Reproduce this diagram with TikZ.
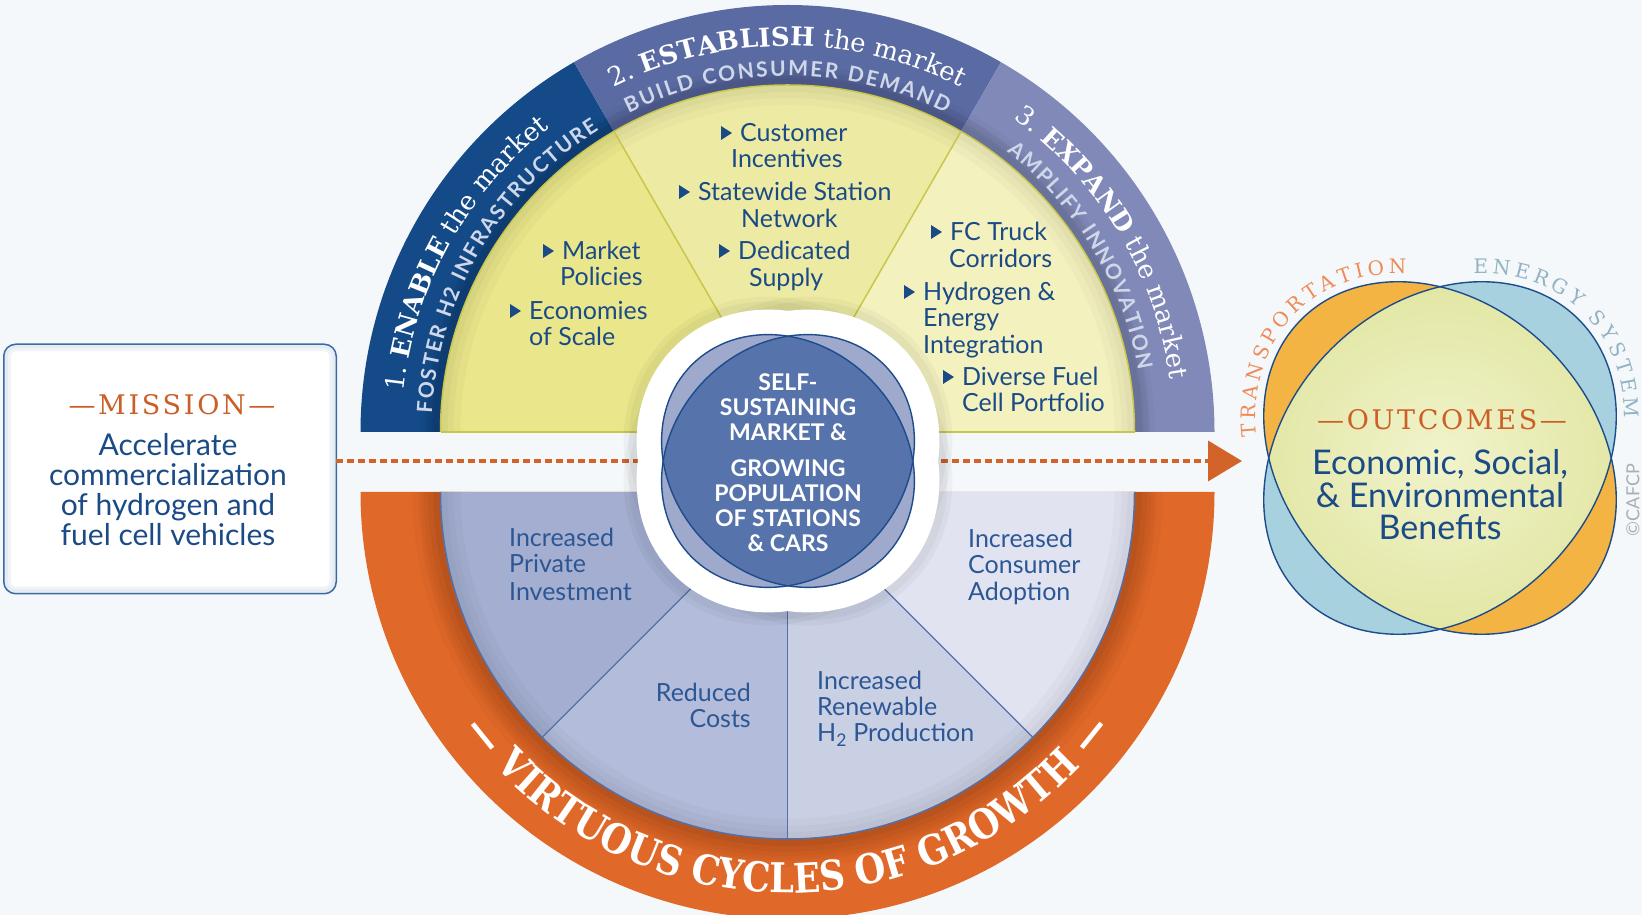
\documentclass[tikz,border=0pt]{standalone}
\usepackage{fontspec}
\setmainfont{Lato}
\newfontfamily\serifrm{DejaVu Serif}
\newfontfamily\serifst[FakeStretch=0.86]{DejaVu Serif}
\newfontfamily\serifls[LetterSpace=10]{DejaVu Serif}
\usetikzlibrary{decorations.text,arrows.meta,calc}

\definecolor{bg}{HTML}{F4F8FB}
\definecolor{ringA}{HTML}{134A87}
\definecolor{ringB}{HTML}{5A6BA3}
\definecolor{ringC}{HTML}{8089B8}
\definecolor{yelA}{HTML}{E9E68B}
\definecolor{yelB}{HTML}{EDEBA3}
\definecolor{yelC}{HTML}{F3F1BE}
\definecolor{yline}{HTML}{C9C64C}
\definecolor{orng}{HTML}{E06828}
\definecolor{orngdark}{HTML}{A84A18}
\definecolor{bsA}{HTML}{A3AED0}
\definecolor{bsB}{HTML}{B3BCDA}
\definecolor{bsC}{HTML}{CAD0E4}
\definecolor{bsD}{HTML}{E1E4F0}
\definecolor{secline}{HTML}{5470A8}
\definecolor{cdark}{HTML}{5673AB}
\definecolor{clight}{HTML}{9FA9CC}
\definecolor{outl}{HTML}{1D4C8C}
\definecolor{vorng}{HTML}{F3B443}
\definecolor{vblue}{HTML}{A8D1E0}
\definecolor{vyelin}{HTML}{F1F3CB}
\definecolor{vyelout}{HTML}{E1E6A2}
\definecolor{txtblue}{HTML}{1B4B86}
\definecolor{bottxt}{HTML}{2C5794}
\definecolor{ttlorange}{HTML}{CC5F27}
\definecolor{transp}{HTML}{EE8C58}
\definecolor{energy}{HTML}{93B3C3}
\definecolor{copyc}{HTML}{A8AEB5}
\definecolor{ringtxt}{HTML}{D0D7E8}
\definecolor{boxline}{HTML}{3C6AA2}
\definecolor{boxglow}{HTML}{E6ECF3}
\definecolor{dashc}{HTML}{D2642A}

\newcommand\ringbig{\fontsize{26}{26}\serifrm\mdseries}
\newcommand\ringbigb{\fontsize{26}{26}\serifrm\bfseries}
\newcommand\ringsmall{\fontsize{21}{21}\selectfont\rmfamily\bfseries}
\newcommand\cyclefont{\fontsize{41}{41}\serifst\bfseries}
\newcommand\outfont{\fontsize{20}{20}\serifrm\mdseries}

\tikzset{
  sectxt/.style={text=txtblue,font=\fontsize{25}{25}\selectfont,inner sep=0pt},
  bottext/.style={text=bottxt,font=\fontsize{25}{25}\selectfont,inner sep=0pt},
  ctrtxt/.style={text=white,font=\fontsize{23}{25}\selectfont\bfseries,align=center,inner sep=0pt},
  outline/.style={draw=outl,line width=1.4pt},
}
% bullet line: name, x of text, y (image, line centre), text
\newcommand\bul[4]{%
  \node[sectxt,anchor=base west] (#1) at (#2,906-#3) {#4};
  \fill[txtblue] ($(#1.base west)+(-19,2)$) -- ++(0,14) -- ++(11,-7) -- cycle;}
\newcommand\lin[4]{\node[sectxt,anchor=base west] (#1) at (#2,906-#3) {#4};}
\newcommand\blin[4]{\node[bottext,anchor=base west] (#1) at (#2,906-#3) {#4};}
\newcommand\blinr[4]{\node[bottext,anchor=base east] (#1) at (#2,906-#3) {#4};}

\begin{document}
\begin{tikzpicture}[x=1pt,y=1pt]
\useasboundingbox (0,0) rectangle (1642,915);
\fill[bg] (0,0) rectangle (1642,915);
\clip (0,0) rectangle (1642,915);

\coordinate (U) at (787.5,483);
\coordinate (L) at (787.5,423);
\coordinate (C) at (788,454);
\coordinate (O) at (1440,457);
\coordinate (tip) at (1242,454);

% ---------- lower half ----------
\fill[orng] (L) -- ($(L)+(180:427)$) arc[start angle=180,end angle=360,radius=427] -- cycle;
\foreach \w in {56,44,34,24,14}{
  \draw[orngdark,opacity=0.09,line width=\w] ($(L)+(180:347)$) arc[start angle=180,end angle=360,radius=347];}
\fill[bsA] (L) -- ($(L)+(180:347)$) arc[start angle=180,end angle=225,radius=347] -- cycle;
\fill[bsB] (L) -- ($(L)+(225:347)$) arc[start angle=225,end angle=270,radius=347] -- cycle;
\fill[bsC] (L) -- ($(L)+(270:347)$) arc[start angle=270,end angle=315,radius=347] -- cycle;
\fill[bsD] (L) -- ($(L)+(315:347)$) arc[start angle=315,end angle=360,radius=347] -- cycle;
\foreach \w in {40,26,14}{
  \draw[black,opacity=0.025,line width=\w] ($(L)+(180:347)$) arc[start angle=180,end angle=360,radius=347];}
\draw[secline,line width=1.2] (L) -- ($(L)+(225:347)$);
\draw[secline,line width=1.2] (L) -- ($(L)+(270:347)$);
\draw[secline,line width=1.2] (L) -- ($(L)+(315:347)$);
\draw[secline,line width=1.5] ($(L)+(180:347)$) arc[start angle=180,end angle=360,radius=347];

% ---------- upper half ----------
\fill[ringA] (U) -- ($(U)+(180:427)$) arc[start angle=180,end angle=120,radius=427] -- cycle;
\fill[ringB] (U) -- ($(U)+(120:427)$) arc[start angle=120,end angle=60,radius=427] -- cycle;
\fill[ringC] (U) -- ($(U)+(60:427)$) arc[start angle=60,end angle=0,radius=427] -- cycle;
\foreach \w in {30,18}{
  \draw[black,opacity=0.05,line width=\w] ($(U)+(180:347)$) arc[start angle=180,end angle=0,radius=347];}
\fill[yelA] (U) -- ($(U)+(180:347)$) arc[start angle=180,end angle=120,radius=347] -- cycle;
\fill[yelB] (U) -- ($(U)+(120:347)$) arc[start angle=120,end angle=60,radius=347] -- cycle;
\fill[yelC] (U) -- ($(U)+(60:347)$) arc[start angle=60,end angle=0,radius=347] -- cycle;
\foreach \w in {40,26,14}{
  \draw[black,opacity=0.025,line width=\w] ($(U)+(180:347)$) arc[start angle=180,end angle=0,radius=347];}
\draw[yline,line width=1.5] (U) -- ($(U)+(120:347)$);
\draw[yline,line width=1.5] (U) -- ($(U)+(60:347)$);
\draw[yline,line width=1.5] ($(U)+(180:347)$) arc[start angle=180,end angle=0,radius=347];
\draw[yline,line width=1.5] ($(U)+(180:347)$) -- ($(U)+(0:347)$);

% ring texts
\path[decorate,decoration={text along path,text align=center,text color=white,
  text={|\ringbig|1. |\ringbigb|ENABLE|\ringbig| the market}}]
  ($(U)+(191:386)$) arc[start angle=191,end angle=111,radius=386];
\path[decorate,decoration={text along path,text align=center,text color=white,
  text={|\ringbig|2. |\ringbigb|ESTABLISH|\ringbig| the market}}]
  ($(U)+(130:386)$) arc[start angle=130,end angle=50,radius=386];
\path[decorate,decoration={text along path,text align=center,text color=white,
  text={|\ringbig|3. |\ringbigb|EXPAND|\ringbig| the market}}]
  ($(U)+(71:386)$) arc[start angle=71,end angle=-9,radius=386];
\path[decorate,decoration={text along path,text align={fit to path},text color=ringtxt,
  text={|\ringsmall|FOSTER H2 INFRASTRUCTURE}}]
  ($(U)+(177:356)$) arc[start angle=177,end angle=122,radius=356];
\path[decorate,decoration={text along path,text align={fit to path},text color=ringtxt,
  text={|\ringsmall|BUILD CONSUMER DEMAND}}]
  ($(U)+(116.5:356)$) arc[start angle=116.5,end angle=63.5,radius=356];
\path[decorate,decoration={text along path,text align={fit to path},text color=ringtxt,
  text={|\ringsmall|AMPLIFY INNOVATION}}]
  ($(U)+(52:356)$) arc[start angle=52,end angle=10,radius=356];
\path[decorate,decoration={text along path,text align=center,text color=white,
  text={|\cyclefont|— VIRTUOUS CYCLES OF GROWTH —}}]
  ($(L)+(200:401)$) arc[start angle=200,end angle=340,radius=401];

% ---------- mission box and arrow ----------
\node[draw=boxline,line width=1.5pt,fill=white,rounded corners=12pt,
      minimum width=331pt,minimum height=248pt,inner sep=0pt] (mission) at (170,446) {};
\begin{scope}
  \clip[rounded corners=12pt] (mission.south west) rectangle (mission.north east);
  \draw[boxglow,line width=14pt,rounded corners=12pt,opacity=0.6] (mission.south west) rectangle (mission.north east);
  \draw[boxglow,line width=8pt,rounded corners=12pt] (mission.south west) rectangle (mission.north east);
\end{scope}
\draw[boxline,line width=1.5pt,rounded corners=12pt] (mission.south west) rectangle (mission.north east);
\draw[dashc,line width=4pt,dash pattern=on 7pt off 4pt,
      -{Triangle[length=34pt,width=40pt]}] (mission.east |- tip) -- (tip);
\node[text=ttlorange,font=\fontsize{27}{27}\serifls,inner sep=0pt] (missiont) at (172,510) {—MISSION—};
\node[text=txtblue,font=\fontsize{30}{30}\selectfont,align=center,inner sep=0pt] (missionb) at (168,425)
  {Accelerate\\commercialization\\of hydrogen and\\fuel cell vehicles};

% ---------- central blob ----------
\begin{scope}[shift={(C)}]
  \foreach \w in {76,66}{
    \draw[black,opacity=0.03,line width=\w,rotate=45] (0,0) ellipse[x radius=136,y radius=116];
    \draw[black,opacity=0.03,line width=\w,rotate=-45] (0,0) ellipse[x radius=136,y radius=116];}
  \fill[white,rotate=45] (0,0) ellipse[x radius=136,y radius=116];
  \fill[white,rotate=-45] (0,0) ellipse[x radius=136,y radius=116];
  \draw[white,line width=50,rotate=45] (0,0) ellipse[x radius=136,y radius=116];
  \draw[white,line width=50,rotate=-45] (0,0) ellipse[x radius=136,y radius=116];
  \fill[clight,rotate=45] (0,0) ellipse[x radius=136,y radius=116];
  \fill[clight,rotate=-45] (0,0) ellipse[x radius=136,y radius=116];
  \begin{scope}
    \clip[rotate=45] (0,0) ellipse[x radius=136,y radius=116];
    \fill[cdark,rotate=-45] (0,0) ellipse[x radius=136,y radius=116];
  \end{scope}
  \draw[outline,rotate=45] (0,0) ellipse[x radius=136,y radius=116];
  \draw[outline,rotate=-45] (0,0) ellipse[x radius=136,y radius=116];
\end{scope}
\node[ctrtxt] (ctr1) at (788,508) {SELF-\\SUSTAINING\\MARKET \&};
\node[ctrtxt] (ctr2) at (788,409) {GROWING\\POPULATION\\OF STATIONS\\\& CARS};

% ---------- sector texts ----------
\bul{m1}{562}{251}{Market}
\lin{m1b}{560}{277}{Policies}
\bul{m2}{529}{311}{Economies}
\lin{m2b}{529}{337}{of Scale}

\bul{c1}{740}{133}{Customer}
\lin{c1b}{731}{159}{Incentives}
\bul{c2}{698}{192}{Statewide Station}
\lin{c2b}{741}{219}{Network}
\bul{c3}{738}{251}{Dedicated}
\lin{c3b}{749}{278}{Supply}

\bul{e1}{950}{232}{FC Truck}
\lin{e1b}{949}{259}{Corridors}
\bul{e2}{923}{292}{Hydrogen \&}
\lin{e2b}{923}{318}{Energy}
\lin{e2c}{923}{345}{Integration}
\bul{e3}{962}{377}{Diverse Fuel}
\lin{e3b}{962}{403}{Cell Portfolio}

\blin{p1}{509}{538}{Increased}
\blin{p2}{509}{564}{Private}
\blin{p3}{509}{592}{Investment}
\blinr{r1}{751}{693}{Reduced}
\blinr{r2}{751}{719}{Costs}
\blin{h1}{817}{681}{Increased}
\blin{h2}{817}{707}{Renewable}
\blin{h3}{817}{733}{H\textsubscript{2} Production}
\blin{a1}{968}{539}{Increased}
\blin{a2}{968}{565}{Consumer}
\blin{a3}{968}{592}{Adoption}

% ---------- outcomes venn ----------
\begin{scope}[shift={(O)}]
  \fill[vorng,rotate=-45] (0,0) ellipse[x radius=196,y radius=154];
  \fill[vblue,rotate=45] (0,0) ellipse[x radius=196,y radius=154];
  \begin{scope}
    \clip[rotate=-45] (0,0) ellipse[x radius=196,y radius=154];
    \shade[inner color=vyelin,outer color=vyelout,rotate=45] (0,0) ellipse[x radius=196,y radius=154];
  \end{scope}
  \draw[outline,rotate=-45] (0,0) ellipse[x radius=196,y radius=154];
  \draw[outline,rotate=45] (0,0) ellipse[x radius=196,y radius=154];
  \begin{scope}[rotate=-45]
    \path[decorate,decoration={text along path,text align={fit to path},text color=transp,
      text={|\outfont|TRANSPORTATION}}]
      (225:204 and 162) arc[start angle=225,end angle=139,x radius=204,y radius=162];
  \end{scope}
  \begin{scope}[rotate=45]
    \path[decorate,decoration={text along path,text align={fit to path},text color=energy,
      text={|\outfont|ENERGY SYSTEM}}]
      (41:204 and 162) arc[start angle=41,end angle=-39,x radius=204,y radius=162];
  \end{scope}
\end{scope}
\node[text=ttlorange,font=\fontsize{27}{27}\serifls,inner sep=0pt] (outt) at (1442,495) {—OUTCOMES—};
\node[text=txtblue,font=\fontsize{34}{32.5}\selectfont,align=center,inner sep=0pt] (outb) at (1440,420)
  {Economic, Social,\\\& Environmental\\Benefits};
\node[text=copyc,font=\fontsize{18}{18}\selectfont,rotate=90,inner sep=0pt] (copy) at (1633,415) {©CAFCP};
\end{tikzpicture}
\end{document}
